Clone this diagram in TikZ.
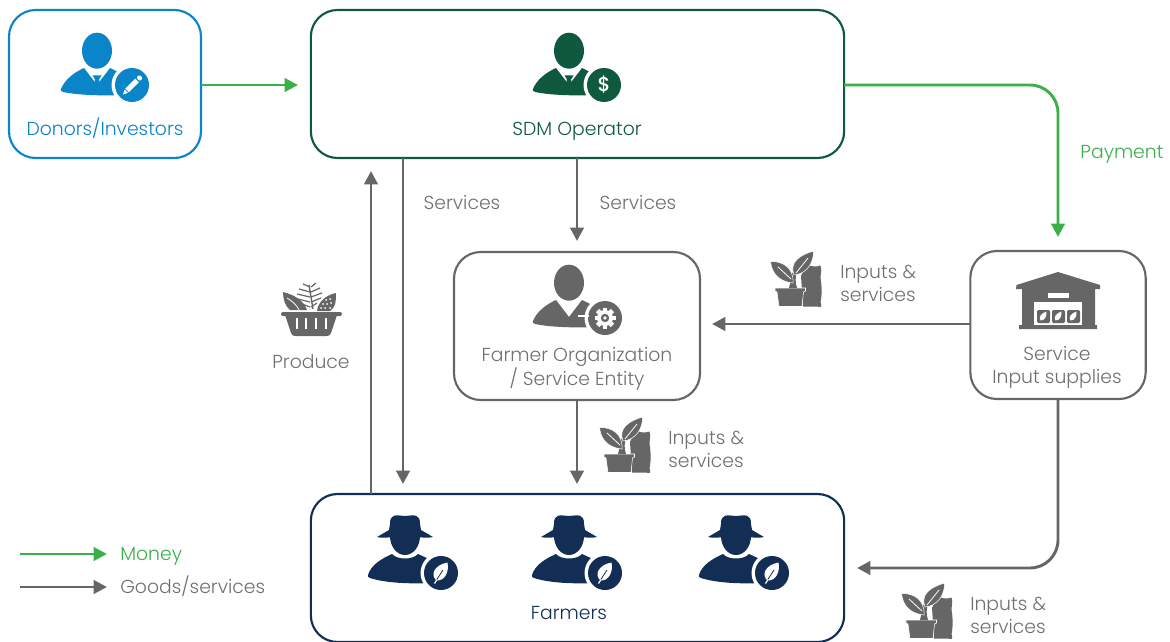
\documentclass[tikz,border=0pt]{standalone}
\usepackage{fontspec}
\setmainfont{Poppins Light}
\usetikzlibrary{arrows.meta}
\definecolor{cblue}{HTML}{0A85C9}
\definecolor{cgreen}{HTML}{0F5A3F}
\definecolor{cgray}{HTML}{666666}
\definecolor{ctext}{HTML}{707070}
\definecolor{cnavy}{HTML}{132E55}
\definecolor{cmoney}{HTML}{3BB04A}
\tikzset{
  box/.style={draw=#1,line width=1.6pt,rounded corners=20pt,inner sep=0pt,fill=white},
  lab/.style={font=\fontsize{14.1}{17}\selectfont,text=ctext,inner sep=0pt,align=center},
  blab/.style={lab,anchor=base},
  llab/.style={lab,align=left,anchor=west},
  wlab/.style={lab,anchor=base west},
  flow/.style={draw=cgray,line width=2.2pt,-{Triangle[length=10pt,width=10pt]}},
  money/.style={draw=cmoney,line width=2.2pt,-{Triangle[length=10pt,width=10pt]}},
}
% person head and shoulders, origin at head centre
\newcommand{\bust}[4]{% x,y,colour,badge content
  \begin{scope}[shift={(#1,#2)}]
    \fill[#3] (0,.7) ellipse (15 and 18);
    \fill[#3] (-36,39) .. controls (-32,29) and (-22,22) .. (-13,18) -- (0,35) -- (13,18) -- (21,22) -- (30,30) -- (24,45)
       .. controls (5,46) and (-20,45) .. (-34,42) .. controls (-36,41) and (-37,40) .. (-36,39) -- cycle;
    #4
  \end{scope}}
\newcommand{\tie}[1]{\fill[#1] (-4.5,25.5) -- (4.5,25.5) -- (2,29.5) -- (3,33.5) -- (0,36.5) -- (-3,33.5) -- (-2,29.5) -- cycle;}
\newcommand{\badge}[2]{% colour, centre offset
  \fill[white] (#2) circle (20.5);
  \fill[#1] (#2) circle (17);}
\newcommand{\pencil}{\begin{scope}[shift={(35,35)},white]
  \fill (-6.8,3.7) -- (3.2,-6.3) -- (6.8,-2.7) -- (-3.2,7.3) -- cycle;
  \fill[rounded corners=1pt] (4.2,-7.3) -- (7.2,-10.3) -- (10.8,-6.7) -- (7.8,-3.7) -- cycle;
  \fill (-7.4,4.6) -- (-4.1,7.9) -- (-9,9.5) -- cycle;
  \end{scope}}
\newcommand{\gearbadge}[1]{\begin{scope}[shift={(36,36)}]
  \foreach \a in {0,45,...,315} {\fill[white,rotate=\a] (-2.4,-10.5) rectangle (2.4,0);}
  \fill[white] (0,0) circle (8);
  \fill[#1] (0,0) circle (4.2);
  \fill[white] (0,0) circle (1.8);
  \end{scope}}
\newcommand{\farmer}[3]{% x,y,name
  \begin{scope}[shift={(#1,#2)}]
    \fill[cnavy] (0,3) ellipse (15 and 19);
    \fill[cnavy] (-15,-9) .. controls (-15,-19) and (-10,-18) .. (0,-17) .. controls (10,-18) and (15,-19) .. (15,-9)
       -- (16,-3) -- (28,4) .. controls (20,6) and (10,3) .. (0,3) .. controls (-10,3) and (-20,6) .. (-28,4) -- (-16,-3) -- cycle;
    \fill[cnavy] (-37,42) .. controls (-34,32) and (-24,26) .. (-13,21) .. controls (-8,27) and (8,27) .. (13,21)
       -- (24,26) -- (34,38) -- (26,50) .. controls (5,51) and (-20,50) .. (-35,45) .. controls (-37,44) .. (-37,42) -- cycle;
    \badge{cnavy}{36,40}
    \begin{scope}[shift={(36,40)}]
      \fill[white] (6.5,-10.5) .. controls (-7,-8) and (-11,2) .. (-4.5,7.5) .. controls (3,8) and (8.5,0) .. (6.5,-10.5) -- cycle;
      \draw[cnavy,line width=.6pt] (-6.5,10) -- (2,-3);
      \draw[white,line width=.9pt] (-6.5,10.5) -- (-4,6.5);
    \end{scope}
  \end{scope}}
\newcommand{\plantsack}[2]{\begin{scope}[shift={(#1,#2)}]
  % sack
  \fill[cgray] (41,36) .. controls (43,31) and (45,27) .. (48,24.5) .. controls (52,27) and (56,27) .. (60.5,25.5)
     .. controls (62,30) and (60.5,34) .. (60.5,38) .. controls (62,46) and (62,56) .. (60.5,62) .. controls (61.5,65) and (61.5,67) .. (60.5,67) .. controls (55,66) and (49,67) .. (43,66.5) -- cycle;
  % pot
  \filldraw[fill=cgray,draw=white,line width=.4pt] (15,48) -- (45.5,48) -- (45.5,51) -- (43.5,52) -- (42,66.5) -- (19,66.5) -- (17,52) -- (15,51) -- cycle;
  % stem
  \fill[cgray] (29,48) .. controls (31,42) and (30,37) .. (32,33) -- (38,30) .. controls (35,37) and (35,42) .. (37,48) -- cycle;
  % leaves
  \filldraw[fill=cgray,draw=white,line width=.4pt] (33,43) .. controls (22,42) and (12,36) .. (10.5,21.5) .. controls (23,21) and (34,28) .. (33,43) -- cycle;
  \draw[white,line width=.6pt] (18,27) -- (31,39);
  \filldraw[fill=cgray,draw=white,line width=.4pt] (34,35) .. controls (29,22) and (40,15) .. (53.5,11) .. controls (54,22) and (47,34) .. (34,35) -- cycle;
  \draw[white,line width=.6pt] (36,33) -- (48,18);
  \end{scope}}
\begin{document}
\begin{tikzpicture}[x=.75pt,y=-.75pt]
\useasboundingbox (0,0) rectangle (1170,642);
% boxes
\node[box=cblue,minimum width=144pt,minimum height=111pt] (donors) at (105,84) {};
\node[box=cgreen,minimum width=400pt,minimum height=111pt] (sdm) at (577.5,84) {};
\node[box=cgray,minimum width=184.5pt,minimum height=111pt] (fo) at (577,326) {};
\node[box=cgray,minimum width=131.5pt,minimum height=111pt] (svc) at (1058,325) {};
\node[box=cnavy,minimum width=400pt,minimum height=111pt] (farmers) at (577.5,568) {};
% connector ends
\coordinate (svcT) at (1058,237);
\coordinate (foT) at (577,241);
\coordinate (fmL) at (403,158);
\coordinate (fmT) at (403,484);
\coordinate (prS) at (371,494);
\coordinate (prE) at (371,171);
\coordinate (foB) at (577,484);
\coordinate (foR) at (712,324);
\coordinate (svcL) at (971,324);
\coordinate (fmR) at (857,568);
\coordinate (dT) at (298,85);
\coordinate (dS) at (201,85);
% connectors
\draw[money] (dS) -- (dT);
\draw[money,rounded corners=21pt] (844,85) -- (1058,85) -- (svcT);
\draw[flow] (577,158) -- (foT);
\draw[flow] (fmL) -- (fmT);
\draw[flow] (prS) -- (prE);
\draw[flow] (577,400) -- (foB);
\draw[flow] (svcL) -- (foR);
\draw[flow,rounded corners=21pt] (1058,399) -- (1058,568) -- (fmR);
% legend
\coordinate (m1) at (20,554); \coordinate (m2) at (107,554);
\coordinate (g1) at (20,587); \coordinate (g2) at (107,587);
\draw[money] (m1) -- (m2);
\draw[flow] (g1) -- (g2);
% icons
\bust{97}{50}{cblue}{\tie{cblue}\badge{cblue}{35,35}\pencil}
\bust{569}{50}{cgreen}{\tie{cgreen}\badge{cgreen}{35,35}
  \node[text=white,inner sep=0pt,font=\fontsize{15}{15}\selectfont\fontspec{Poppins Medium}] (dollar) at (35,35) {\$};}
\bust{569}{282}{cgray}{\badge{cgray}{36,36}\gearbadge{cgray}\fill[white] (9,33) rectangle (20,35);}
\farmer{405}{533}{a}
\farmer{569}{533}{b}
\farmer{736}{533}{c}
\plantsack{760}{240}
\plantsack{589}{406}
\plantsack{891}{572}
% warehouse
\begin{scope}[shift={(1000,260)}]
  \fill[cgray] (16,29) -- (16.5,25) -- (58,12) -- (100,25) -- (100,29) -- (95,29) -- (95,65) -- (97,65) -- (97,69) -- (19,69) -- (19,65) -- (22,65) -- (22,29) -- cycle;
  \fill[white] (48,33) rectangle (69,38);
  \fill[white] (34,42) rectangle (82,65);
  \foreach \x in {37,52,67}{
    \fill[cgray,rounded corners=1pt] (\x,50) rectangle ++(13,13);
    \begin{scope}[shift={(\x+6.5,56.5)}]
      \fill[white] (3,-5) .. controls (-3,-3) and (-5,1) .. (-3,4) .. controls (1,4) and (3.5,0) .. (3,-5) -- cycle;
    \end{scope}}
\end{scope}
% basket
\begin{scope}[shift={(270,275)}]
  \fill[cgray] (13,17) .. controls (25,20) and (34,26) .. (37,35) -- (20,35) .. controls (15,31) and (13,24) .. (13,17) -- cycle;
  \draw[white,line width=.6pt] (17,23) .. controls (22,26) and (27,30) .. (29,35);
  \draw[cgray,line width=1pt] (43,34) -- (39,10);
  \foreach \y/\l in {12/7,17/11,22/13,27/12,32/8}{
    \draw[cgray,line width=.9pt] (40,\y) -- ++(-\l,-3);
    \draw[cgray,line width=.9pt] (41,\y) -- ++(\l-2,-4);}
  \fill[cgray] (47,36) .. controls (48,27) and (56,20) .. (66,18) .. controls (66,26) and (66,32) .. (60,36) -- cycle;
  \foreach \p in {(51,33),(55,33),(60,33),(53,29),(57,29),(61,28),(56,25),(60,24)}{\fill[white] \p circle (1);}
  \fill[cgray,rounded corners=1.5pt] (11,37) rectangle (72,41);
  \fill[cgray] (15,40) -- (67,40) -- (61,58) .. controls (60,61) and (58,61) .. (56,61) -- (26,61) .. controls (24,61) and (22,61) .. (21,58) -- cycle;
  \foreach \x in {25.5,34.5,44.5,54.5}{\fill[white] (\x,43) rectangle ++(2.4,11);}
\end{scope}
% labels
\node[blab,text=cblue] (tdon) at (105,135) {Donors/Investors};
\node[blab,text=cgreen] (tsdm) at (577,135) {SDM Operator};
\node[lab] (tfo) at (577,368.5) {Farmer Organization\\/ Service Entity};
\node[lab] (tsvc) at (1057,367.5) {Service\\Input supplies};
\node[blab,text=cnavy] (tfarm) at (569,619) {Farmers};
\node[blab] (s1) at (462,209) {Services};
\node[blab] (s2) at (638,209) {Services};
\node[blab,text=cmoney] (pay) at (1122,158) {Payment};
\node[blab] (prod) at (311,368.5) {Produce};
\node[llab] (i1) at (840,283.5) {Inputs \&\\services};
\node[llab] (i2) at (668,449.5) {Inputs \&\\services};
\node[llab] (i3) at (970,615.5) {Inputs \&\\services};
\node[wlab,text=cmoney] (lm) at (120,560.5) {Money};
\node[wlab] (lg) at (120,593.5) {Goods/services};
\end{tikzpicture}
\end{document}
